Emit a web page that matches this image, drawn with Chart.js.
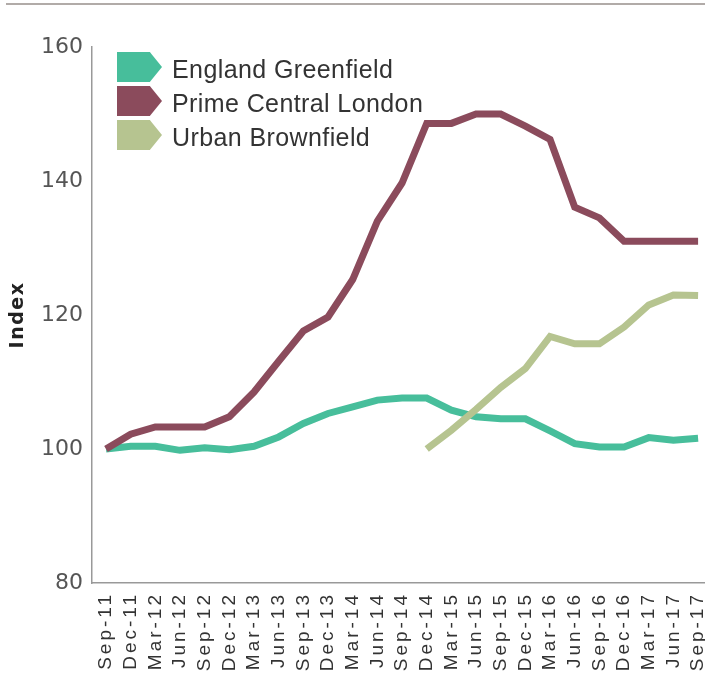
<!DOCTYPE html>
<html>
<head>
<meta charset="utf-8">
<script src="https://cdn.jsdelivr.net/npm/chart.js@4"></script>
<style>
html,body{margin:0;padding:0;background:#fff;overflow:hidden}
#wrap{position:relative;width:705px;height:684px}
#c{position:absolute;left:0;top:0}
#topline{position:absolute;left:6px;right:0;top:3px;height:2px;background:#b1aba8}
#legend{position:absolute;left:117px;top:50px;font-family:"Liberation Sans",Arial,sans-serif;font-size:25px;letter-spacing:0.4px;color:#333}
.row{display:flex;align-items:center;height:34px}
.mk{width:45px;height:30px;clip-path:polygon(0 0,73% 0,100% 50%,73% 100%,0 100%);margin-right:10px;flex:none}
.lb{position:relative;top:2px;white-space:nowrap}
</style>
</head>
<body>
<div id="wrap">
<canvas id="c" width="705" height="684"></canvas>
<div id="topline"></div>
<div id="legend"></div>
</div>
<script>
const categories = ["Sep-11","Dec-11","Mar-12","Jun-12","Sep-12","Dec-12","Mar-13","Jun-13","Sep-13","Dec-13","Mar-14","Jun-14","Sep-14","Dec-14","Mar-15","Jun-15","Sep-15","Dec-15","Mar-16","Jun-16","Sep-16","Dec-16","Mar-17","Jun-17","Sep-17"];
const englandGreenfield = [100, 100.4, 100.4, 99.8, 100.2, 99.9, 100.4, 101.8, 103.8, 105.3, 106.3, 107.3, 107.6, 107.6, 105.8, 104.8, 104.5, 104.5, 102.7, 100.8, 100.3, 100.3, 101.7, 101.3, 101.6];
const primeCentralLondon = [100, 102.2, 103.3, 103.3, 103.3, 104.8, 108.5, 113.1, 117.6, 119.7, 125.3, 134, 139.7, 148.6, 148.6, 150, 150, 148.2, 146.2, 136.1, 134.5, 131, 131, 131, 131];
const urbanBrownfield = [null, null, null, null, null, null, null, null, null, null, null, null, null, 100, 102.8, 105.9, 109.2, 112, 116.8, 115.7, 115.7, 118.2, 121.5, 123, 122.9];
const yTicks = [80, 100, 120, 140, 160];
const seriesNames = ["England Greenfield", "Prime Central London", "Urban Brownfield"];
const seriesColors = ["#47be9b", "#8b4b5c", "#b6c490"];

const toPoints = arr => arr.map((v, i) => ({x: i, y: v}));

const spacing = {x: {labels: '3px'}, y: {labels: '0px', title: '1.5px'}};
const spacingPlugin = {
  id: 'letterSpacing',
  beforeDraw(chart) {
    for (const id of ['x', 'y']) {
      const s = chart.scales[id];
      if (!s || s._lsPatched) continue;
      const dl = s.drawLabels, dt = s.drawTitle;
      s.drawLabels = function (a) { const c = this.ctx; c.save(); c.letterSpacing = spacing[id].labels; dl.call(this, a); c.restore(); };
      if (spacing[id].title) s.drawTitle = function (a) { const c = this.ctx; c.save(); c.letterSpacing = spacing[id].title; dt.call(this, a); c.restore(); };
      s._lsPatched = true;
    }
  }
};

const mkDs = (i, data, order) => ({
  label: seriesNames[i],
  data: toPoints(data),
  borderColor: seriesColors[i],
  backgroundColor: seriesColors[i],
  borderWidth: 7,
  pointRadius: 0,
  tension: 0,
  borderCapStyle: 'butt',
  borderJoinStyle: 'miter',
  order: order
});

const chart = new Chart(document.getElementById('c'), {
  type: 'line',
  data: {
    datasets: [
      mkDs(0, englandGreenfield, 3),
      mkDs(1, primeCentralLondon, 1),
      mkDs(2, urbanBrownfield, 2)
    ]
  },
  plugins: [spacingPlugin],
  options: {
    responsive: false,
    animation: false,
    devicePixelRatio: 1,
    layout: {padding: {top: 47, left: 0, right: 0, bottom: 0}},
    plugins: {legend: {display: false}, tooltip: {enabled: false}},
    scales: {
      x: {
        type: 'linear',
        min: -0.567,
        max: 24.28,
        grid: {display: false, drawTicks: false},
        border: {display: true, color: '#999', width: 1.5},
        ticks: {
          stepSize: 1,
          includeBounds: false,
          autoSkip: false,
          maxTicksLimit: 40,
          minRotation: 90,
          maxRotation: 90,
          padding: 9,
          color: '#333',
          font: {family: 'Liberation Sans', size: 19},
          callback: v => (Number.isInteger(v) && categories[v] !== undefined) ? categories[v] : ''
        },
        afterFit: s => { s.height = 101; s.paddingLeft = 0; s.paddingRight = 0; }
      },
      y: {
        min: 80,
        max: 160,
        grid: {display: false, drawTicks: false},
        border: {display: true, color: '#999', width: 1.5},
        afterBuildTicks: s => { s.ticks = yTicks.map(v => ({value: v})); },
        ticks: {
          padding: 9,
          color: '#555',
          font: {family: 'DejaVu Sans', size: 22}
        },
        title: {
          display: true,
          text: 'Index',
          color: '#222',
          font: {family: 'DejaVu Sans', size: 19, weight: 'bold'},
          padding: {top: 7, bottom: 0}
        },
        afterFit: s => { s.width = 92; s.paddingTop = 0; s.paddingBottom = 0; }
      }
    }
  }
});

const legendEl = document.getElementById('legend');
chart.data.datasets.forEach(ds => {
  const row = document.createElement('div');
  row.className = 'row';
  const mk = document.createElement('div');
  mk.className = 'mk';
  mk.style.background = ds.borderColor;
  const lb = document.createElement('span');
  lb.className = 'lb';
  lb.textContent = ds.label;
  row.appendChild(mk);
  row.appendChild(lb);
  legendEl.appendChild(row);
});
</script>
</body>
</html>
